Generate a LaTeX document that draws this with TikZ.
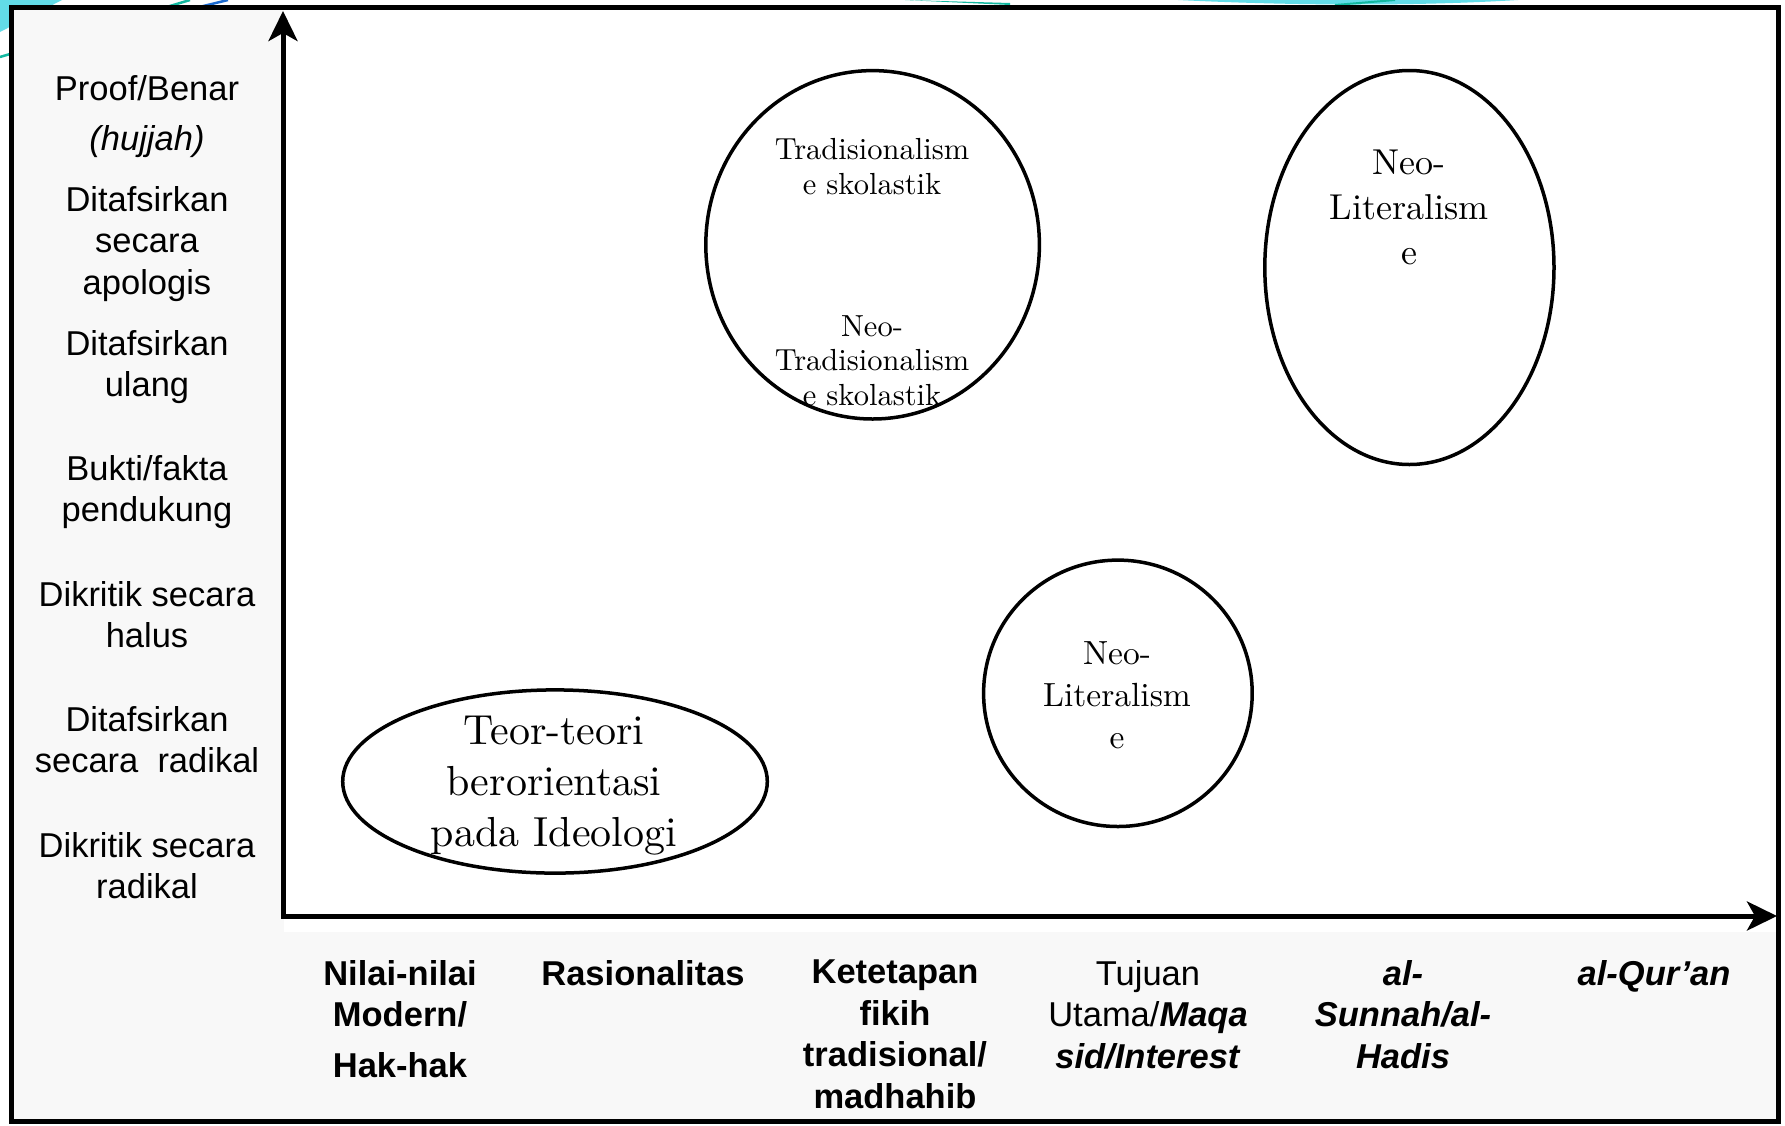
\documentclass[tikz,border=0pt]{standalone}
\usepackage{fontspec}
\newfontfamily\arial{Liberation Sans}
\newfontfamily\bookish{lmroman10-regular.otf}
\usetikzlibrary{arrows.meta,shapes.geometric}
\definecolor{paper}{HTML}{F8F8F8}
\definecolor{swcyan}{HTML}{62DCE8}
\definecolor{swteal}{HTML}{12B8A0}
\definecolor{swblue}{HTML}{1C6BD0}

\begin{document}
\begin{tikzpicture}[x=1pt,y=-1pt,
  axisline/.style={line width=5pt, line join=miter, >={Stealth[length=30pt,width=29pt,inset=8pt]}},
  blob/.style={draw, ellipse, line width=3.5pt, inner sep=0pt},
  ylab/.style={font=\arial\fontsize{34.5}{41.5}\selectfont, align=center, anchor=north, inner sep=0pt},
  xlab/.style={font=\arial\bfseries\fontsize{34.5}{41.5}\selectfont, align=center, anchor=north, inner sep=0pt},
  blobtext/.style={align=center, anchor=north, inner sep=0pt}]

\useasboundingbox (0,0) rectangle (1785,1125);
\fill[white] (0,0) rectangle (1785,1125);

% slide decoration behind the frame
\fill[swcyan] (0,0) -- (62,0) -- (0,32) -- cycle;
\draw[swteal, line width=2.5pt] (0,57) -- (190,0);
\draw[swblue, line width=2.5pt] (24,50) -- (228,0);
\fill[swcyan] (1178,0) .. controls (1300,6) and (1420,6) .. (1518,0) -- cycle;
\fill[swteal] (905,0) -- (1010,5) -- (1010,3) -- cycle;
\draw[swteal, line width=2pt] (1335,5) -- (1395,0);

% panel backgrounds
\fill[paper] (11,7) rectangle (1778,1121);
\fill[white] (284,10) rectangle (1776,932);

% outer frame
\draw[line width=5pt] (11,7) rectangle (1778,1121);

% axes
\coordinate (origin) at (283,916);
\coordinate (ytip) at (283,11);
\coordinate (xtip) at (1777,916);
\draw[axisline, <->] (ytip) -- (origin) -- (xtip);

% groups in the plane
\node[blob, minimum width=333.6pt, minimum height=348.4pt] (tradcirc) at (872.6,244.8) {};
\node[blob, minimum width=289.2pt, minimum height=394pt] (neolitoval) at (1409.4,267.5) {};
\node[blob, minimum width=268.6pt, minimum height=266.4pt] (neolitcirc) at (1117.9,693.3) {};
\node[blob, minimum width=424.6pt, minimum height=183.2pt] (ideooval) at (555,781.5) {};

\node[blobtext, font=\bookish\fontsize{30.5}{35}\selectfont] (tradtxt) at (872,138) {Tradisionalism\\e skolastik};
\node[blobtext, font=\bookish\fontsize{30.5}{34.5}\selectfont] (neotradtxt) at (872,315) {Neo-\\Tradisionalism\\e skolastik};
\node[blobtext, font=\bookish\fontsize{36}{45}\selectfont] (neolitAtxt) at (1409,149.5) {Neo-\\Literalism\\e};
\node[blobtext, font=\bookish\fontsize{33.5}{42}\selectfont] (neolitBtxt) at (1117,641) {Neo-\\Literalism\\e};
\node[blobtext, font=\bookish\fontsize{42}{51}\selectfont] (ideotxt) at (554,716) {Teor-teori\\berorientasi\\pada Ideologi};

% vertical scale
\node[ylab] (proof) at (147,75) {Proof/Benar\\[8.5pt]\textit{(hujjah)}};
\node[ylab] (apolog) at (147,186) {Ditafsirkan\\secara\\apologis};
\node[ylab] (ulang) at (147,330) {Ditafsirkan\\ulang};
\node[ylab] (bukti) at (147,455) {Bukti/fakta\\pendukung};
\node[ylab] (halus) at (147,581) {Dikritik secara\\halus};
\node[ylab] (tafrad) at (147,706) {Ditafsirkan\\secara\ \ radikal};
\node[ylab] (kritrad) at (147,832) {Dikritik secara\\radikal};

% horizontal scale
\node[xlab] (nilai) at (400,960) {Nilai-nilai\\Modern/\\[9.5pt]Hak-hak};
\node[xlab] (rasio) at (643,960) {Rasionalitas};
\node[xlab] (fikih) at (895,960) {Ketetapan\\fikih\\tradisional/\\madhahib};
\node[xlab] (tujuan) at (1148,960) {\mdseries Tujuan\\\mdseries Utama/\textbf{\textit{Maqa}}\\\textit{sid/Interest}};
\node[xlab] (sunnah) at (1403,960) {\textit{al-}\\\textit{Sunnah/al-}\\\textit{Hadis}};
\node[xlab] (quran) at (1654,960) {\textit{al-Qur’an}};
\end{tikzpicture}
\end{document}
